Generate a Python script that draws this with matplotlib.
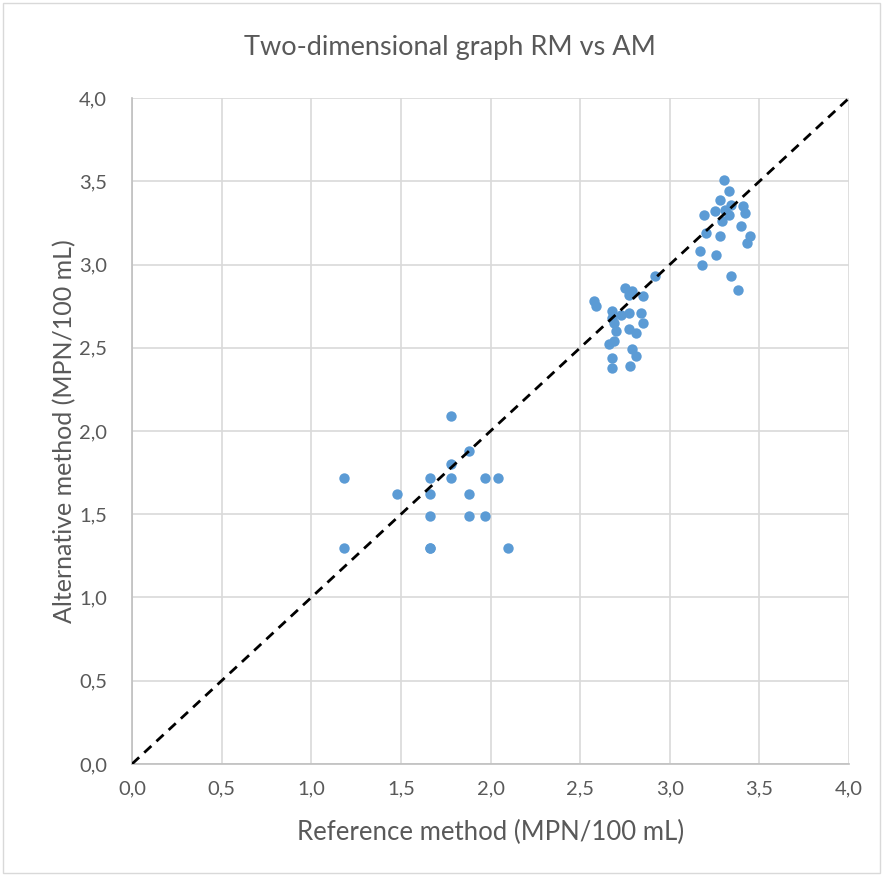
import numpy as np
import matplotlib
matplotlib.use("Agg")
import matplotlib.pyplot as plt
from matplotlib.ticker import FuncFormatter, MultipleLocator
from matplotlib.patches import Rectangle

# Reference method (x) vs alternative method (y), log10 MPN/100 mL
rm_low = [1.78, 1.88, 1.78, 1.18, 1.66, 1.78, 1.97, 2.04, 1.48, 1.66, 1.88,
          1.66, 1.88, 1.97, 1.18, 1.66, 1.66, 2.10]
am_low = [2.09, 1.88, 1.80, 1.72, 1.72, 1.72, 1.72, 1.72, 1.62, 1.62, 1.62,
          1.49, 1.49, 1.49, 1.30, 1.30, 1.30, 1.30]

rm_mid = [2.92, 2.75, 2.77, 2.79, 2.85, 2.58, 2.59, 2.68, 2.73, 2.77, 2.84,
          2.68, 2.69, 2.85, 2.70, 2.77, 2.81, 2.69, 2.66, 2.79, 2.81, 2.68,
          2.68, 2.78]
am_mid = [2.93, 2.86, 2.82, 2.84, 2.81, 2.78, 2.75, 2.72, 2.70, 2.71, 2.71,
          2.68, 2.65, 2.65, 2.60, 2.61, 2.59, 2.54, 2.52, 2.49, 2.45, 2.44,
          2.38, 2.39]

rm_high = [3.30, 3.33, 3.28, 3.34, 3.41, 3.31, 3.42, 3.19, 3.25, 3.33, 3.29,
           3.40, 3.20, 3.28, 3.45, 3.43, 3.17, 3.26, 3.18, 3.34, 3.38]
am_high = [3.51, 3.44, 3.39, 3.36, 3.35, 3.33, 3.31, 3.30, 3.32, 3.30, 3.26,
           3.23, 3.19, 3.17, 3.17, 3.13, 3.08, 3.06, 3.00, 2.93, 2.85]

rm = rm_low + rm_mid + rm_high
am = am_low + am_mid + am_high

text_col = "#595959"
plt.rcParams["font.family"] = ["Lato", "DejaVu Sans"]

fig = plt.figure(figsize=(8.83, 8.76), dpi=100)
ax = fig.add_axes([0.1495, 0.1279, 0.812, 0.7601])

ax.scatter(rm, am, s=56, color="#5B9BD5", zorder=3, linewidths=0)
ax.plot([0, 4], [0, 4], color="black", lw=2, ls=(0, (3.5, 2.5)), zorder=4)

ax.set_xlim(0, 4)
ax.set_ylim(0, 4)
ax.xaxis.set_major_locator(MultipleLocator(0.5))
ax.yaxis.set_major_locator(MultipleLocator(0.5))
fmt = FuncFormatter(lambda v, p: f"{v:.1f}".replace(".", ","))
ax.xaxis.set_major_formatter(fmt)
ax.yaxis.set_major_formatter(fmt)
ax.grid(True, color="#D9D9D9", lw=1.2)
ax.set_axisbelow(True)
ax.tick_params(axis="x", length=0, labelsize=14.5, labelcolor=text_col, pad=12)
ax.tick_params(axis="y", length=0, labelsize=14.5, labelcolor=text_col, pad=18)

for s in ["top", "right"]:
    ax.spines[s].set_visible(False)
for s in ["left", "bottom"]:
    ax.spines[s].set_color("#BFBFBF")
    ax.spines[s].set_linewidth(1.2)

fig.text(0.51, 0.946, "Two-dimensional graph RM vs AM", fontsize=19.5,
         color=text_col, ha="center", va="center")
ax.set_xlabel("Reference method (MPN/100 mL)", fontsize=18.5, color=text_col, labelpad=16)
ax.set_ylabel("Alternative method (MPN/100 mL)", fontsize=18, color=text_col, labelpad=2)

fig.patches.append(Rectangle((0.003, 0.003), 0.994, 0.994, transform=fig.transFigure,
                             fill=False, edgecolor="#D9D9D9", lw=1))

fig.savefig("out.png", dpi=100)
